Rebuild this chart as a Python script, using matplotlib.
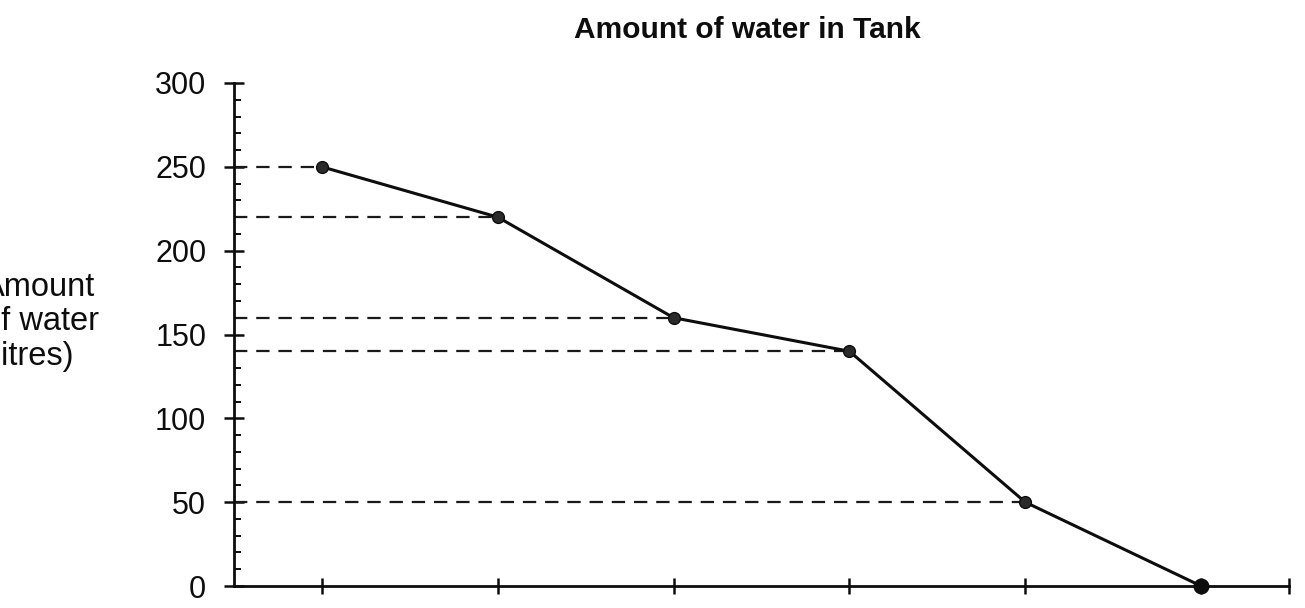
import matplotlib
matplotlib.use("Agg")
import matplotlib.pyplot as plt
from matplotlib.ticker import MultipleLocator

plt.rcParams['font.family'] = ['Liberation Sans', 'DejaVu Sans']

title = "Amount of water in Tank"
ylabel = "Amount\nof water\n(litres)"
x_positions = [1, 2, 3, 4, 5, 6]
water_litres = [250, 220, 160, 140, 50, 0]
y_ticks = [0, 50, 100, 150, 200, 250, 300]

W, H = 1305, 608
fig = plt.figure(figsize=(W / 100, H / 100), dpi=100)
ax = fig.add_axes([234 / W, 1 - 586 / H, 1055 / W, 503 / H])

ax.set_xlim(0.5, 6.5)
ax.set_ylim(0, 300)

# dashed guide lines from the y axis to each point
for xv, yv in zip(x_positions, water_litres):
    if yv > 0:
        ax.plot([0.5, xv], [yv, yv], color='#1a1a1a', lw=1.6,
                dashes=(6, 4), zorder=2, clip_on=False)

ax.plot(x_positions, water_litres, color='#0d0d0d', lw=2.2, zorder=3,
        marker='o', markersize=8.5, markerfacecolor='#2a2a2a',
        markeredgecolor='#0d0d0d', clip_on=False)
ax.plot(x_positions[-1:], water_litres[-1:], 'o', color='#0d0d0d',
        markersize=10.5, zorder=4, clip_on=False)

for s in ['top', 'right']:
    ax.spines[s].set_visible(False)
for s in ['left', 'bottom']:
    ax.spines[s].set_linewidth(2.0)
    ax.spines[s].set_color('#0d0d0d')

ax.set_yticks(y_ticks)
ax.yaxis.set_minor_locator(MultipleLocator(10))
ax.set_xticks(x_positions + [6.5])
ax.set_xticklabels([])
ax.tick_params(axis='y', which='major', direction='inout', length=14,
               width=1.8, labelsize=22, pad=13, colors='#0d0d0d')
ax.tick_params(axis='y', which='minor', direction='in', length=5,
               width=1.4, colors='#0d0d0d')
ax.tick_params(axis='x', which='major', direction='inout', length=12,
               width=1.8, colors='#0d0d0d')

fig.text(747 / W, 1 - 30 / H, title, ha='center', va='center',
         fontsize=21.5, fontweight='bold', color='#0d0d0d')
fig.text(-17 / W, 1 - 322 / H, ylabel, ha='left', va='center',
         fontsize=23.5, color='#0d0d0d', linespacing=1.13)

fig.savefig('out.png', dpi=100)
